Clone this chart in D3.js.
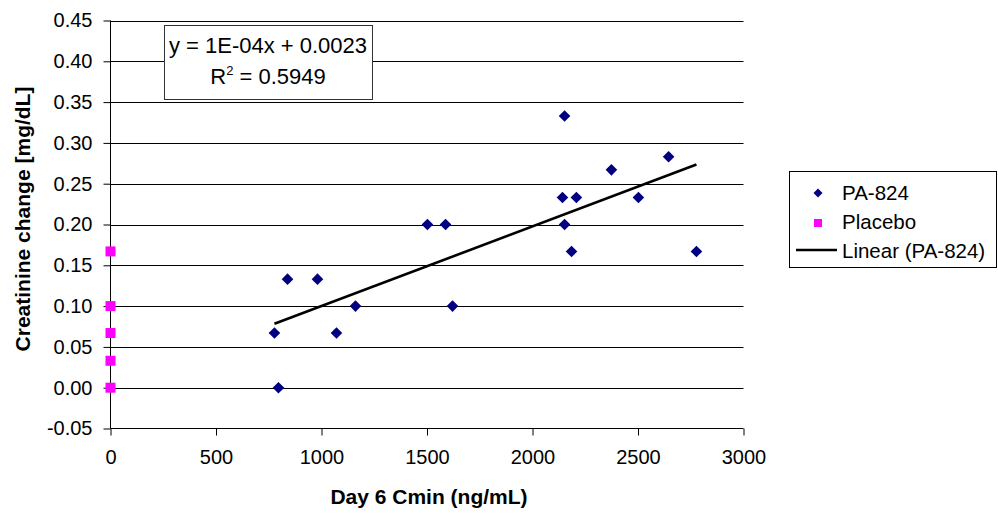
<!DOCTYPE html>
<html>
<head>
<meta charset="utf-8">
<script src="https://cdn.jsdelivr.net/npm/d3@7/dist/d3.min.js"></script>
<style>
  html, body { margin: 0; padding: 0; background: #fff; }
  svg { display: block; font-family: "Liberation Sans", Arial, sans-serif; }
</style>
</head>
<body>
<svg id="chart" width="998" height="514"></svg>
<script>
// ---- Data ----
const paX = [777, 796, 839, 981, 1071, 1161, 1502, 1588, 1621, 2152, 2142, 2208, 2152, 2185, 2374, 2502, 2645, 2777];
const paY = [0.067, 0.000, 0.133, 0.133, 0.067, 0.100, 0.200, 0.200, 0.100, 0.333, 0.233, 0.233, 0.200, 0.167, 0.267, 0.233, 0.283, 0.167];
const placeboX = [0, 0, 0, 0, 0];
const placeboY = [0.167, 0.100, 0.067, 0.033, 0.000];
const xTicks = [0, 500, 1000, 1500, 2000, 2500, 3000];
const yTicks = [-0.05, 0, 0.05, 0.10, 0.15, 0.20, 0.25, 0.30, 0.35, 0.40, 0.45];
const seriesNames = ["PA-824", "Placebo", "Linear (PA-824)"];
const eqLine1 = "y = 1E-04x + 0.0023";
const eqR2 = "0.5949";
const xTitle = "Day 6 Cmin (ng/mL)";
const yTitle = "Creatinine change [mg/dL]";

// ---- Layout ----
const svg = d3.select("#chart");
const x = d3.scaleLinear().domain([0, 3000]).range([110.5, 743.5]);
const y = d3.scaleLinear().domain([-0.05, 0.45]).range([428.5, 20.5]);

// gridlines
svg.append("g").selectAll("line")
  .data(yTicks.filter(t => t > -0.05 + 1e-9))
  .join("line")
  .attr("x1", x(0)).attr("x2", x(3000))
  .attr("y1", d => Math.round(y(d)) + 0.5).attr("y2", d => Math.round(y(d)) + 0.5)
  .attr("stroke", "#000").attr("stroke-width", 1);

// axes
const f2 = d3.format(".2f");
const yAxis = d3.axisLeft(y).tickValues(yTicks).tickSize(7).tickPadding(11)
  .tickFormat(d => f2(d).replace("\u2212", "-"));
const xAxis = d3.axisBottom(x).tickValues(xTicks).tickSize(7).tickPadding(14)
  .tickFormat(d3.format("d"));

const gy = svg.append("g").attr("transform", `translate(${x(0)},0)`).call(yAxis);
const gx = svg.append("g").attr("transform", `translate(0,${y(-0.05)})`).call(xAxis);
[gx, gy].forEach(g => {
  g.selectAll(".tick line").attr("stroke", "#000");
  g.selectAll(".tick text").attr("fill", "#000").style("font-size", "20px")
    .style("font-family", "'Liberation Sans', Arial, sans-serif");
  g.select(".domain").remove();
});
svg.append("line").attr("x1", x(0)).attr("x2", x(0)).attr("y1", y(0.45)).attr("y2", y(-0.05)).attr("stroke", "#000");
svg.append("line").attr("x1", x(0)).attr("x2", x(3000)).attr("y1", y(-0.05)).attr("y2", y(-0.05)).attr("stroke", "#000");

// trend line (least squares on PA-824 data)
const n = paX.length;
const mx = d3.mean(paX), my = d3.mean(paY);
let sxy = 0, sxx = 0;
for (let i = 0; i < n; i++) { sxy += (paX[i] - mx) * (paY[i] - my); sxx += (paX[i] - mx) ** 2; }
const slope = sxy / sxx, intercept = my - slope * mx;
const xMin = d3.min(paX), xMax = d3.max(paX);
svg.append("line")
  .attr("x1", x(xMin)).attr("y1", y(intercept + slope * xMin))
  .attr("x2", x(xMax)).attr("y2", y(intercept + slope * xMax))
  .attr("stroke", "#000").attr("stroke-width", 2.6);

// PA-824 diamonds
const diamond = (cx, cy, r) => `M${cx},${cy - r}L${cx + r},${cy}L${cx},${cy + r}L${cx - r},${cy}Z`;
svg.append("g").selectAll("path")
  .data(paX.map((v, i) => [v, paY[i]]))
  .join("path")
  .attr("d", d => diamond(x(d[0]), y(d[1]), 5.8))
  .attr("fill", "#000080");

// Placebo squares
svg.append("g").selectAll("rect")
  .data(placeboX.map((v, i) => [v, placeboY[i]]))
  .join("rect")
  .attr("x", d => x(d[0]) - 5).attr("y", d => y(d[1]) - 5)
  .attr("width", 10).attr("height", 10)
  .attr("fill", "#FF00FF");

// equation box
const eq = svg.append("g");
eq.append("rect").attr("x", 164.5).attr("y", 25.5).attr("width", 208).attr("height", 74)
  .attr("fill", "#fff").attr("stroke", "#333").attr("stroke-width", 1);
eq.append("text").attr("x", 268).attr("y", 53).attr("text-anchor", "middle")
  .style("font-size", "22px").text(eqLine1);
const t2 = eq.append("text").attr("x", 268).attr("y", 84).attr("text-anchor", "middle")
  .style("font-size", "22px");
t2.append("tspan").text("R");
t2.append("tspan").attr("dy", -9).style("font-size", "13px").text("2");
t2.append("tspan").attr("dy", 9).text(" = " + eqR2);

// axis titles
svg.append("text").attr("x", 429).attr("y", 504).attr("text-anchor", "middle")
  .style("font-size", "21px").style("font-weight", "bold").text(xTitle);
svg.append("text").attr("transform", "translate(30,219) rotate(-90)")
  .attr("text-anchor", "middle")
  .style("font-size", "21px").style("font-weight", "bold").text(yTitle);

// legend
const lg = svg.append("g");
lg.append("rect").attr("x", 789.5).attr("y", 171.5).attr("width", 207).attr("height", 96)
  .attr("fill", "#fff").attr("stroke", "#000").attr("stroke-width", 1);
lg.append("path").attr("d", diamond(818, 193, 4.5)).attr("fill", "#000080");
lg.append("rect").attr("x", 814).attr("y", 219).attr("width", 8).attr("height", 8).attr("fill", "#FF00FF");
lg.append("line").attr("x1", 796).attr("x2", 837).attr("y1", 250).attr("y2", 250)
  .attr("stroke", "#000").attr("stroke-width", 2.6);
lg.selectAll("text.lt").data(seriesNames).join("text")
  .attr("class", "lt")
  .attr("x", 842).attr("y", (d, i) => 200 + i * 29)
  .style("font-size", "20.5px").text(d => d);
</script>
</body>
</html>
